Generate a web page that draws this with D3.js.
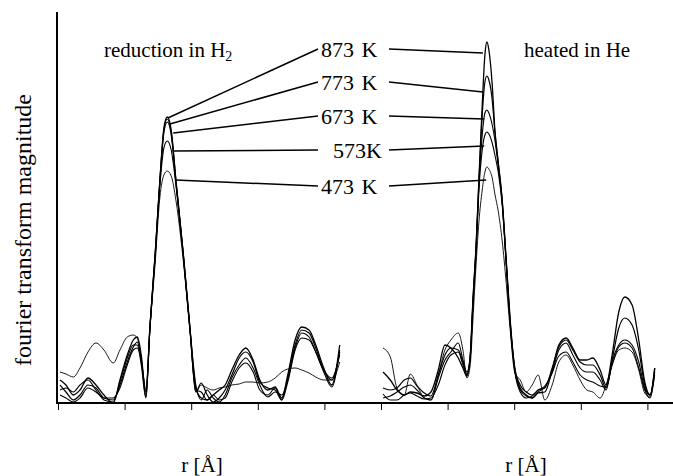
<!DOCTYPE html>
<html>
<head>
<meta charset="utf-8">
<script src="https://d3js.org/d3.v7.min.js"></script>
<style>
  body { margin: 0; background: #fff; }
  svg { display: block; }
  text { font-family: "Liberation Serif", "Times New Roman", serif; fill: #000; }
</style>
</head>
<body>
<svg id="chart" width="673" height="476"></svg>
<script>
// temperatures, same order in both panels
var temps = ["873 K", "773 K", "673 K", "573K", "473 K"];

// r [Å] knots, left panel (reduction in H2)
var rLeft = [0.03,0.12,0.23,0.33,0.45,0.57,0.69,0.83,0.93,1.04,1.13,1.19,1.25,1.32,1.38,1.46,1.53,1.59,1.64,1.70,
  1.77,1.88,1.98,2.07,2.15,2.24,2.33,2.42,2.51,2.61,2.72,2.82,2.93,3.03,3.15,3.26,3.36,3.45,3.56,3.66,
  3.77,3.87,3.99,4.11,4.23];

// fourier transform magnitude (arb. units), left panel
var left873 = [2.3,1.8,0.8,1.3,2.5,1.8,0.8,0,2.3,4.8, 6.3,6.6,4.8,0.8,7.6,15.0,22.3,27.5,28.6,27.3,
  22.3,15.0,7.6,1.5,0.5,0.3,0.8,1.3,1.8,3.3, 4.8,5.5,4.3,2.3,1.3,1.6,0.5,2.8,6.3,7.6, 7.3,5.8,3.5,1.8,5.8];
var left773 = [1.8,1.1,0.3,0.8,1.8,1.5,0.5,0.3,1.8,4.1, 5.6,6.1,4.3,1.1,7.6,15.0,22.3,27.3,28.4,27.0,
  22.3,15.0,7.6,1.1,2.0,0.8,0.1,0.5,1.3,2.8, 4.5,5.1,4.1,2.1,1.5,1.3,0.3,2.5,5.8,7.3, 7.0,5.5,3.3,2.3,5.1];
var left673 = [1.3,1.5,1.1,1.8,2.3,1.3,0.3,0.1,2.1,4.5, 5.8,5.8,3.8,0.5,7.5,14.9,22.2,27.0,28.1,26.8,
  22.1,14.9,7.5,1.8,0.3,1.3,0.5,0.1,0.8,2.5, 3.8,4.5,3.5,1.8,0.6,1.1,0.8,2.3,5.5,7.0, 6.6,5.1,3.1,1.6,5.3];
var left573 = [0.8,0.5,0.1,0.5,1.5,1.1,0.5,0.5,1.5,3.8, 5.3,5.5,4.3,1.3,7.4,14.7,21.8,25.5,26.2,25.3,
  21.8,14.8,7.4,1.3,1.1,0.3,0.8,0.3,0.5,2.1, 3.5,4.0,3.1,1.3,0.8,1.5,0.3,2.1,5.3,6.5, 6.3,5.1,3.3,2.5,4.8];
var left473 = [3.1,2.9,2.6,3.5,5.1,6.0,5.3,4.0,5.3,6.6, 6.8,6.5,4.3,0.6,7.3,14.1,20.6,22.8,23.2,22.7,
  20.3,14.3,7.3,1.1,1.8,1.5,1.3,1.5,1.6,1.8, 1.9,2.1,2.1,2.0,2.1,2.5,3.1,3.4,3.5,3.3, 3.0,2.6,2.3,2.3,4.1];

// r [Å] knots, right panel (heated in He)
var rRight = [0.03,0.14,0.24,0.35,0.44,0.54,0.65,0.75,0.86,0.96,1.05,1.16,1.23,1.29,1.34,1.38,1.43,1.47,1.52,1.56,
  1.59,1.62,1.67,1.71,1.76,1.82,1.88,1.94,2.01,2.09,2.18,2.27,2.36,2.46,2.57,2.67,2.78,2.88,2.99,3.09,
  3.18,3.29,3.38,3.47,3.57,3.66,3.77,3.87,3.96,4.04,4.11];

var right873 = [3.1,2.3,1.3,0.8,1.1,1.0,0.7,1.1,3.3,5.8, 5.5,4.5,3.5,2.7,4.8,10.3,16.1,22.3,29.8,34.8,
  36.1,35.3,31.8,27.3,24.1,20.3,14.3,8.3,3.3,1.5, 0.8,0.5,1.0,1.1,3.3,5.8,6.5,5.5,4.3,4.3,
  4.5,3.3,1.8,4.8,9.1,10.6,9.8,6.3,2.1,0.8, 3.5];
var right773 = [1.5,1.3,1.5,2.3,2.5,1.7,1.0,0.7,2.8,4.8, 5.5,5.3,4.1,3.1,4.7,10.1,15.9,22.1,28.8,32.1,
  32.7,32.3,30.3,27.1,24.0,20.2,14.2,8.1,3.5,1.8, 1.1,0.8,1.3,1.5,3.5,5.6,6.3,5.3,4.1,3.8,
  3.8,2.8,1.5,4.3,7.5,8.5,7.8,5.3,1.8,0.8, 3.5];
var right673 = [0.5,0.7,1.1,1.6,1.8,1.3,0.5,0.3,2.5,4.3, 5.1,6.0,4.3,2.9,4.6,9.9,15.7,21.8,26.8,29.0,
  29.3,29.0,27.8,26.3,23.7,20.0,14.0,7.9,3.3,1.3, 0.7,0.5,1.1,1.6,3.1,5.3,6.0,4.8,3.5,3.1,
  3.1,2.3,1.3,4.1,5.8,6.3,5.8,4.1,1.5,0.8, 3.3];
var right573 = [0.9,0.3,0.3,0.8,1.0,0.7,0.4,0.5,1.8,3.8, 4.8,5.1,3.8,2.8,4.5,9.7,15.5,21.3,25.3,26.8,
  27.1,26.9,26.0,24.8,23.1,19.8,13.9,7.8,3.1,1.1, 0.5,0.7,1.3,1.7,3.0,4.7,5.1,4.1,2.8,2.3,
  2.1,1.7,1.6,3.8,5.6,6.0,5.5,3.5,1.3,0.5, 3.1];
var right473 = [5.5,4.6,1.5,0.8,2.9,1.8,0.5,0.3,2.8,5.3, 6.3,7.0,5.3,2.5,3.8,8.3,14.1,18.1,21.3,23.1,
  23.6,23.4,22.5,20.9,19.2,16.2,12.0,7.3,3.0,2.3, 1.1,1.8,2.8,0.3,1.8,4.1,4.8,3.8,2.3,1.3,
  1.1,0.5,1.8,3.8,5.3,5.5,5.1,3.3,1.0,0.6, 2.8];

// where each label's leader line touches its curve [r, magnitude]
var leaderLeft = [[1.65,28.5],[1.68,27.9],[1.73,27.0],[1.73,25.2],[1.76,22.3]];
var leaderRight = [[1.53,35.0],[1.53,31.1],[1.55,28.4],[1.55,25.7],[1.58,22.3]];

var tickR = [0, 1, 2, 3, 4];

var svg = d3.select("#chart");

var y = d3.scaleLinear().domain([0, 39]).range([403, 13]);
var xL = d3.scaleLinear().domain([0, 4]).range([58, 324.4]);
var xR = d3.scaleLinear().domain([0, 4]).range([381, 647.4]);

var widths = [1.3, 1.2, 1.1, 1.1, 0.9];

function drawPanel(x, rs, series) {
  var line = d3.line()
    .x(function(d) { return x(d[0]); })
    .y(function(d) { return y(d[1]); })
    .curve(d3.curveMonotoneX);
  series.forEach(function(vals, i) {
    svg.append("path")
      .datum(rs.map(function(r, j) { return [r, vals[j]]; }))
      .attr("fill", "none")
      .attr("stroke", "#000")
      .attr("stroke-width", widths[i])
      .attr("d", line);
  });
  var ax = svg.append("g")
    .attr("transform", "translate(0,403)")
    .call(d3.axisBottom(x).tickValues(tickR).tickSize(7).tickFormat(""));
  ax.select(".domain").remove();
  ax.selectAll("line").attr("stroke", "#000").attr("stroke-width", 1);
}

drawPanel(xL, rLeft, [left873, left773, left673, left573, left473]);
drawPanel(xR, rRight, [right873, right773, right673, right573, right473]);

// axes lines
svg.append("line").attr("x1", 57).attr("x2", 57).attr("y1", 12).attr("y2", 404)
  .attr("stroke", "#000").attr("stroke-width", 2);
svg.append("line").attr("x1", 56).attr("x2", 673).attr("y1", 403).attr("y2", 403)
  .attr("stroke", "#000").attr("stroke-width", 2);

// temperature labels with leader lines
var labelY = [57, 90, 124, 158, 194];
temps.forEach(function(t, i) {
  svg.append("text")
    .attr("x", t == "573K" ? 333 : 321)
    .attr("y", labelY[i])
    .attr("font-size", 22)
    .attr("word-spacing", 2)
    .text(t);
  var lineY = labelY[i] - 8;
  svg.append("line")
    .attr("x1", 318).attr("y1", lineY)
    .attr("x2", xL(leaderLeft[i][0])).attr("y2", y(leaderLeft[i][1]))
    .attr("stroke", "#000").attr("stroke-width", 1.5);
  svg.append("line")
    .attr("x1", 389).attr("y1", lineY)
    .attr("x2", xR(leaderRight[i][0])).attr("y2", y(leaderRight[i][1]))
    .attr("stroke", "#000").attr("stroke-width", 1.5);
});

// panel titles
var t1 = svg.append("text").attr("x", 104).attr("y", 57).attr("font-size", 21);
t1.append("tspan").text("reduction in H");
t1.append("tspan").attr("font-size", 14).attr("dy", 4).text("2");
svg.append("text").attr("x", 524).attr("y", 57).attr("font-size", 21).text("heated in He");

// axis titles
svg.append("text")
  .attr("transform", "translate(31,230) rotate(-90)")
  .attr("text-anchor", "middle")
  .attr("font-size", 24)
  .text("fourier transform magnitude");
svg.append("text").attr("x", 202).attr("y", 472).attr("text-anchor", "middle")
  .attr("font-size", 21).text("r [Å]");
svg.append("text").attr("x", 526).attr("y", 472).attr("text-anchor", "middle")
  .attr("font-size", 21).text("r [Å]");
</script>
</body>
</html>
